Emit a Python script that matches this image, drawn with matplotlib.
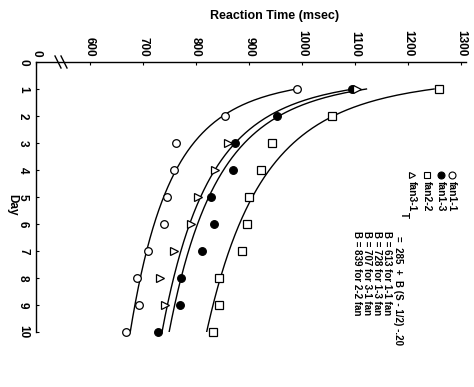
import numpy as np
import matplotlib
matplotlib.use("Agg")
import matplotlib.pyplot as plt
from matplotlib.lines import Line2D

plt.rcParams['font.family'] = ['Liberation Sans', 'DejaVu Sans']

# days of practice
days = [1, 2, 3, 4, 5, 6, 7, 8, 9, 10]

# mean reaction times (msec)
rt_fan11 = [990, 855, 762, 758, 746, 740, 710, 689, 692, 668]
rt_fan13 = [1094, 953, 874, 870, 828, 834, 811, 772, 769, 728]
rt_fan22 = [1259, 1056, 943, 923, 900, 896, 887, 843, 843, 831]
rt_fan31 = [1104, np.nan, 860, 835, 804, 790, 758, 731, 741, np.nan]

# fitted power function  T = 285 + B (S - 1/2)^-.20
T0 = 285
EXPONENT = -0.20
B_fan11 = 613
B_fan13 = 728
B_fan31 = 707
B_fan22 = 839

rt_ticks = [600, 700, 800, 900, 1000, 1100, 1200, 1300]
day_ticks = [0, 1, 2, 3, 4, 5, 6, 7, 8, 9, 10]

W, H = 474, 387


def px(x):
    return x / W


def py(y):
    return 1 - y / H


fig = plt.figure(figsize=(W / 100, H / 100), dpi=100)
ax = fig.add_axes([px(36), py(332), px(466) - px(36), py(62) - py(332)])

x0 = 498  # where the broken axis starts
ax.set_xlim(x0, 1309)
ax.set_ylim(10, 0)

S = np.linspace(1, 10, 200)
for B in [B_fan11, B_fan13, B_fan31, B_fan22]:
    ax.plot(T0 + B * (S - 0.5) ** EXPONENT, S, color='black', lw=1.0)

mk = dict(ls='none', ms=5.5, mec='black', mew=0.9, clip_on=False, zorder=3)
ax.plot(rt_fan11, days, marker='o', mfc='white', **mk)
ax.plot(rt_fan13, days, marker='o', mfc='black', **mk)
ax.plot(rt_fan22, days, marker='s', mfc='white', **mk)
ax.plot(rt_fan31, days, marker='>', mfc='white', **mk)

ax.xaxis.tick_top()
ax.set_xticks([x0] + rt_ticks)
ax.set_xticklabels(['0'] + [str(t) for t in rt_ticks], rotation=-90,
                   fontsize=8.5, fontweight='bold')
ax.set_yticks(day_ticks)
ax.set_yticklabels([str(d) for d in day_ticks], rotation=-90,
                   fontsize=8.5, fontweight='bold', va='center')
ax.tick_params(axis='x', direction='in', length=2, pad=4)
ax.tick_params(axis='y', direction='in', length=2, pad=5)
ax.spines['right'].set_visible(False)
ax.spines['bottom'].set_visible(False)
for sp in ['top', 'left']:
    ax.spines[sp].set_linewidth(1.0)

# axis break marks
for dx in (0, 6):
    fig.add_artist(Line2D([px(55 + dx), px(61 + dx)], [py(56), py(68)],
                          color='black', lw=1.0, transform=fig.transFigure))

fig.text(px(275), py(16), 'Reaction Time (msec)', ha='center', va='center',
         fontsize=9, fontweight='bold')
fig.text(px(12), py(205), 'Day', rotation=-90, ha='center', va='center',
         fontsize=8.5, fontweight='bold')

# legend, rotated like the rest of the figure
leg_syms = ['o', 'o', 's', '>']
leg_fill = ['white', 'black', 'white', 'white']
leg_txt = ['fan1-1', 'fan1-3', 'fan2-2', 'fan3-1']
for x, m, fc, s in zip([452, 441, 427, 412], leg_syms, leg_fill, leg_txt):
    fig.add_artist(Line2D([px(x)], [py(175)], marker=m, ms=5, mfc=fc,
                          mec='black', mew=0.8, ls='none',
                          transform=fig.transFigure))
    fig.text(px(x), py(181), s, rotation=-90, ha='center', va='top',
             fontsize=7.5, fontweight='bold')
fig.text(px(404), py(212), 'T', rotation=-90, ha='center', va='top',
         fontsize=7, fontweight='bold')
fig.text(px(398), py(236), '=  285  +  B (S - 1/2) -.20', rotation=-90,
         ha='center', va='top', fontsize=7, fontweight='bold')
b_lines = ['B = %d for 1-1 fan' % B_fan11, 'B = %d for 1-3 fan' % B_fan13,
           'B = %d for 3-1 fan' % B_fan31, 'B = %d for 2-2 fan' % B_fan22]
for x, s in zip([387, 377, 367, 357], b_lines):
    fig.text(px(x), py(231), s, rotation=-90, ha='center', va='top',
             fontsize=7, fontweight='bold')

fig.savefig('out.png', dpi=100)
